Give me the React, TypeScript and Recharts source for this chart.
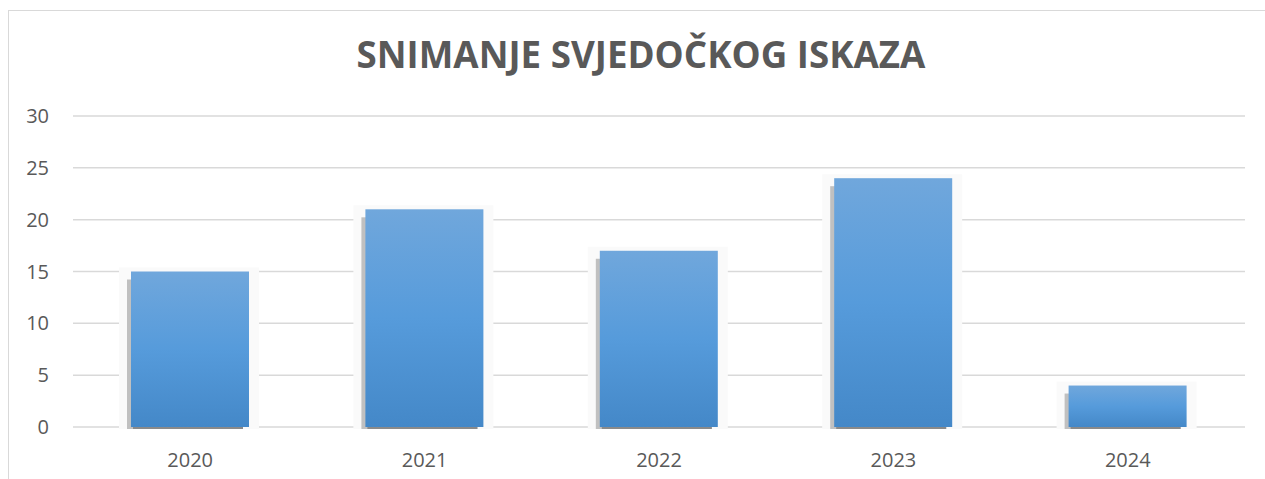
import { BarChart, Bar, XAxis, YAxis, CartesianGrid } from 'recharts';

const years = ['2020', '2021', '2022', '2023', '2024'];
const counts = [15, 21, 17, 24, 4];
const yTicks = [0, 5, 10, 15, 20, 25, 30];

const data = years.map((year, i) => ({ year, value: counts[i] }));

const textColor = '#595959';
const font = '"Open Sans", "Noto Sans", sans-serif';

// bar with the soft halo + offset shadow look of the office chart
const ShadowBar = (props: any) => {
  const { x, y, width, height } = props;
  if (!height || height <= 0) return null;
  return (
    <g>
      <rect x={x - 12} y={y - 4} width={width + 22} height={height + 6} fill="#fafafa" />
      <rect x={x - 4} y={y + 8} width={width - 2} height={height - 6} fill="#c0c0c0" />
      <rect x={x + 2} y={y + height} width={width - 8} height={2} fill="#8a8a8a" />
      <rect x={x} y={y} width={width} height={height} fill="url(#barFill)" />
    </g>
  );
};

export default function App() {
  return (
    <div
      style={{
        position: 'fixed',
        top: 0,
        left: 0,
        width: 1265,
        height: 479,
        overflow: 'hidden',
        background: '#fff',
      }}
    >
      <div
        style={{
          position: 'absolute',
          top: 10,
          left: 8,
          width: 1300,
          height: 520,
          border: '1px solid #d9d9d9',
          background: '#fff',
        }}
      >
        <div
          style={{
            position: 'absolute',
            top: 23,
            left: 0,
            width: 1264,
            textAlign: 'center',
            fontFamily: font,
            fontWeight: 700,
            fontSize: 36.7,
            lineHeight: '40px',
            color: textColor,
          }}
        >
          SNIMANJE SVJEDOČKOG ISKAZA
        </div>
        <BarChart
          width={1290}
          height={466}
          data={data}
          margin={{ top: 105, right: 54, left: 0, bottom: 0 }}
          style={{ position: 'absolute', top: 0, left: 0 }}
        >
          <defs>
            <linearGradient id="barFill" x1="0" y1="0" x2="0" y2="1">
              <stop offset="0%" stopColor="#70a7dc" />
              <stop offset="50%" stopColor="#569bdb" />
              <stop offset="100%" stopColor="#4488c8" />
            </linearGradient>
          </defs>
          <CartesianGrid vertical={false} stroke="#d9d9d9" strokeWidth={1.5} />
          <XAxis
            dataKey="year"
            axisLine={false}
            tickLine={false}
            tickSize={0}
            tickMargin={26}
            height={50}
            tick={{ fill: textColor, fontSize: 20, fontFamily: font }}
          />
          <YAxis
            domain={[0, 30]}
            ticks={yTicks}
            axisLine={false}
            tickLine={false}
            tickSize={0}
            tickMargin={24}
            width={64}
            tick={{ fill: textColor, fontSize: 20, fontFamily: font }}
          />
          <Bar dataKey="value" barSize={118} shape={ShadowBar} isAnimationActive={false} />
        </BarChart>
      </div>
    </div>
  );
}
